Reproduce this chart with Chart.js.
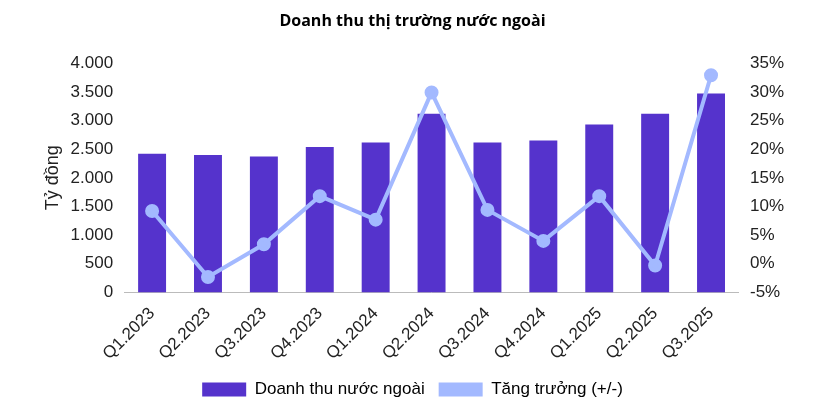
<!DOCTYPE html>
<html><head><meta charset="utf-8">
<script src="https://cdn.jsdelivr.net/npm/chart.js@4"></script>
<style>body{margin:0;background:#fff}#w{width:837px;height:416px}</style>
</head><body><div id="w"><canvas id="c"></canvas></div>
<script>
const categories=["Q1.2023","Q2.2023","Q3.2023","Q4.2023","Q1.2024","Q2.2024","Q3.2024","Q4.2024","Q1.2025","Q2.2025","Q3.2025"];
const revenue=[2420,2400,2370,2540,2615,3120,2615,2650,2930,3120,3470];
const growth=[9.2,-2.3,3.4,11.8,7.7,29.9,9.4,4.0,11.8,-0.3,32.9];
const fmt=v=>v.toLocaleString('de-DE');
new Chart(document.getElementById('c'),{
data:{labels:categories,datasets:[
{type:'line',label:'Tăng trưởng (+/-)',data:growth,yAxisID:'y1',borderColor:'#a3b9ff',backgroundColor:'#a3b9ff',borderWidth:4,pointRadius:5,pointBackgroundColor:'#a3b9ff',tension:0,order:0},
{type:'bar',label:'Doanh thu nước ngoài',data:revenue,yAxisID:'y',backgroundColor:'#5533cc',barPercentage:0.5,categoryPercentage:1,order:1}
]},
options:{responsive:true,maintainAspectRatio:false,animation:false,
layout:{padding:{left:38,right:50,top:2,bottom:8}},
plugins:{title:{display:true,text:'Doanh thu thị trường nước ngoài',font:{family:'Open Sans',size:16,weight:'bold'},color:'#000',padding:{top:10,bottom:32}},
legend:{position:'bottom',labels:{font:{family:'Liberation Sans',size:17},color:'#222',boxWidth:44,boxHeight:14,padding:14,
generateLabels:ch=>[{text:'Doanh thu nước ngoài',fillStyle:'#5533cc',strokeStyle:'#5533cc',lineWidth:0,datasetIndex:1},{text:'Tăng trưởng (+/-)',fillStyle:'#a3b9ff',strokeStyle:'#a3b9ff',lineWidth:0,datasetIndex:0}]}},
tooltip:{enabled:false}},
scales:{
x:{grid:{display:false},border:{color:'#bbb'},ticks:{font:{family:'Liberation Sans',size:17},color:'#222',maxRotation:45,minRotation:45}},
y:{position:'left',min:0,max:4000,grid:{display:false},border:{display:false},ticks:{stepSize:500,callback:v=>fmt(v),font:{family:'Liberation Sans',size:17},color:'#222'},title:{display:true,text:'Tỷ đồng',font:{family:'Liberation Sans',size:18},color:'#222'}},
y1:{position:'right',min:-5,max:35,grid:{display:false},border:{display:false},ticks:{stepSize:5,callback:v=>v+'%',font:{family:'Liberation Sans',size:17},color:'#222'}}
}}});
</script></body></html>
